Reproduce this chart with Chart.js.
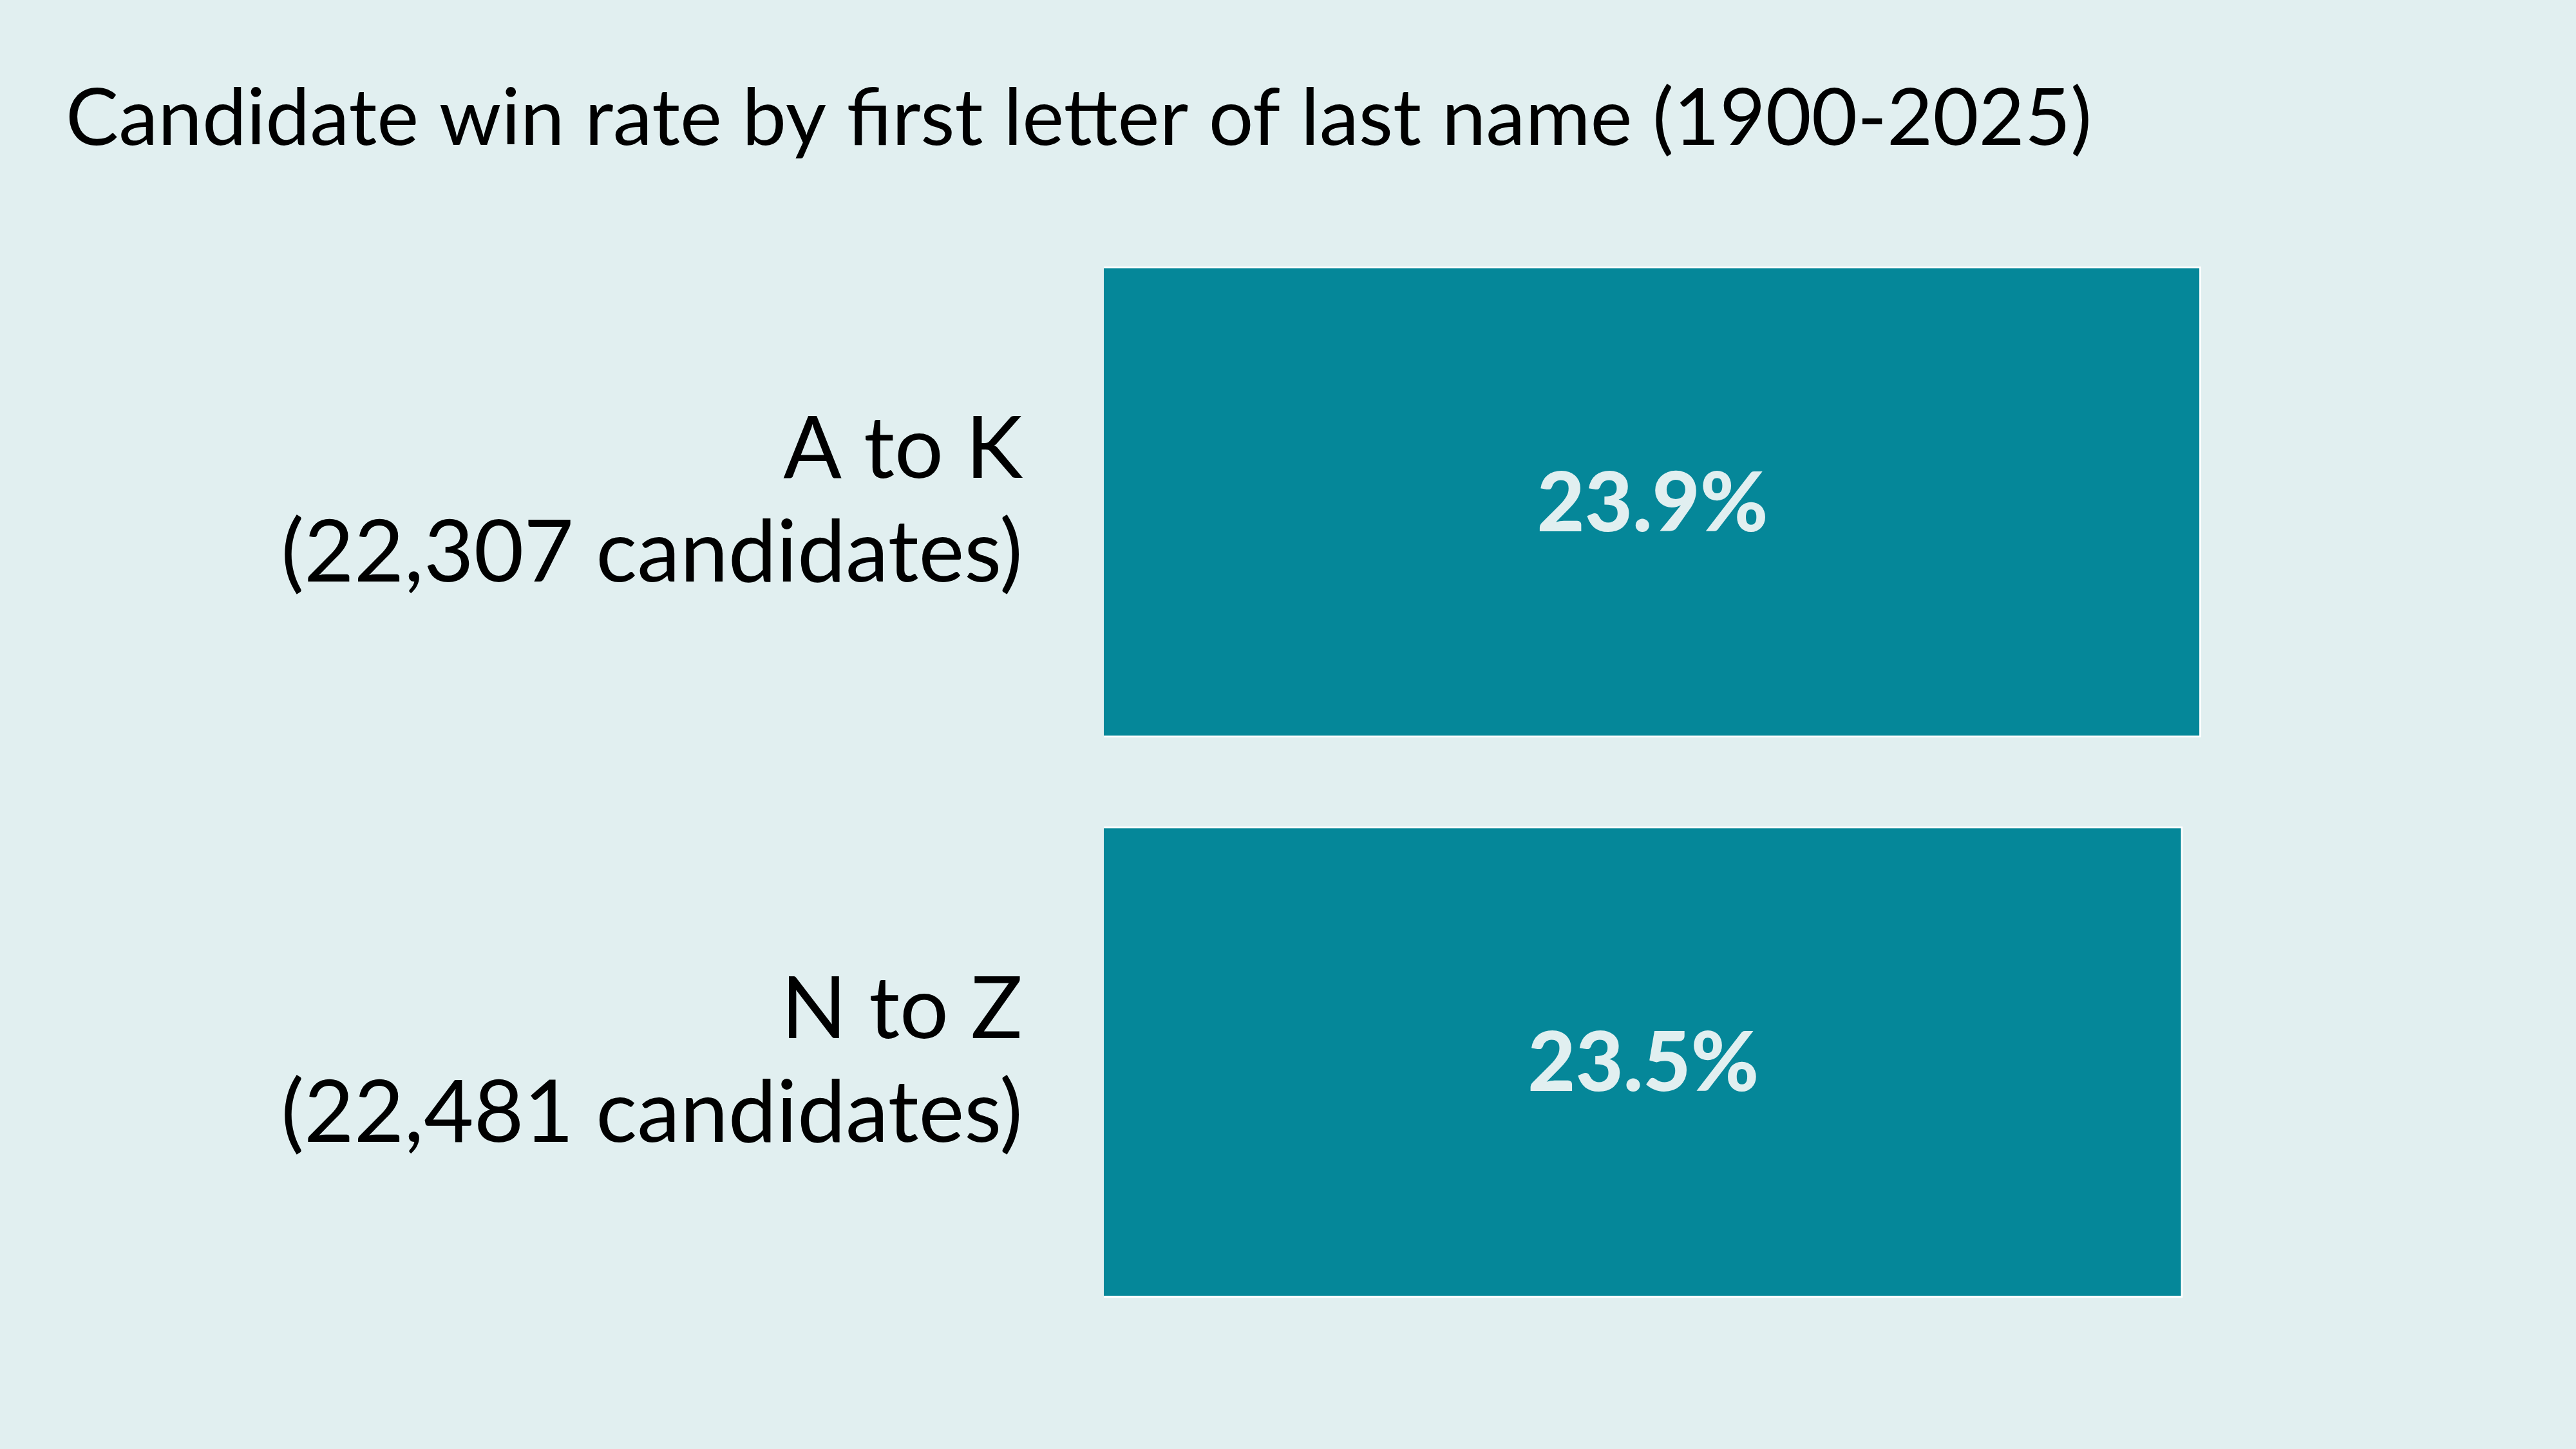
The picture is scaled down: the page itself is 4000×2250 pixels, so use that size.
<!DOCTYPE html>
<html>
<head>
<meta charset="utf-8">
<script src="https://cdn.jsdelivr.net/npm/chart.js@4/dist/chart.umd.min.js"></script>
<style>
  html, body { margin: 0; padding: 0; background: #e1eff0; }
  #wrap { width: 4000px; height: 2250px; }
</style>
</head>
<body>
<div id="wrap"><canvas id="mychart"></canvas></div>
<script>
// data
var labels = [['A to K', '(22,307 candidates)'], ['N to Z', '(22,481 candidates)']]
var winRates = [23.9, 23.5]
var titleText = 'Candidate win rate by first letter of last name (1900-2025)'

// write the percentage in the middle of each bar
var valueLabels = {
    id: 'valueLabels',
    afterDatasetsDraw: function(chart) {
        var ctx = chart.ctx
        var meta = chart.getDatasetMeta(0)
        ctx.save()
        ctx.fillStyle = '#e1eff0'
        ctx.font = '900 128px Lato'
        ctx.textAlign = 'center'
        ctx.textBaseline = 'middle'
        meta.data.forEach(function(bar, i) {
            var cx = (bar.base + bar.x) / 2
            ctx.fillText(winRates[i].toFixed(1) + '%', cx, bar.y + 4)
        })
        ctx.restore()
    }
}

const ctx = document.getElementById('mychart')
var myChart = new Chart(ctx, {
    type: 'bar',
    data: {
        labels: labels,
        datasets: [{
            data: winRates,
            backgroundColor: '#058799',
            borderColor: '#ffffff',
            borderWidth: 3,
            categoryPercentage: 1.0,
            barPercentage: 0.8414
        }]
    },
    options: {
        indexAxis: 'y',
        responsive: true,
        maintainAspectRatio: false,
        animation: false,
        layout: { padding: { left: 102, right: 147, top: 0, bottom: 166 } },
        plugins: {
            legend: { display: false },
            tooltip: { enabled: false },
            title: {
                display: true,
                text: titleText,
                align: 'start',
                color: '#000000',
                font: { family: 'Lato', size: 123, weight: '400', lineHeight: 1.2 },
                padding: { top: 112, bottom: 85 }
            }
        },
        scales: {
            x: { display: false, min: 0, max: 30 },
            y: {
                grid: { display: false, drawTicks: false },
                border: { display: false },
                ticks: {
                    color: '#000000',
                    padding: 126,
                    font: { family: 'Lato', size: 134, weight: '400', lineHeight: 1.2 }
                },
                afterFit: function(scale) {
                    scale.width = 1714 - 102
                    // labels sit inside the chart height, no extra room needed
                    scale.paddingTop = 0
                    scale.paddingBottom = 0
                }
            }
        }
    },
    plugins: [valueLabels]
})
</script>
</body>
</html>
